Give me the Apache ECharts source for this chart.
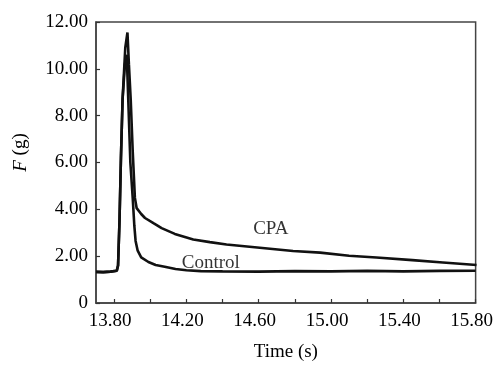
<!DOCTYPE html>
<html>
<head>
<meta charset="utf-8">
<script src="https://cdn.jsdelivr.net/npm/echarts@6/dist/echarts.min.js"></script>
<style>html,body{margin:0;padding:0;background:#fff;}#c{width:496px;height:367px;}</style>
</head>
<body>
<div id="c"></div>
<script>
// Time (s) samples and force (g) values
const controlTime = [13.70, 13.74, 13.78, 13.815, 13.822, 13.83, 13.838, 13.847, 13.86, 13.870, 13.878, 13.89, 13.903, 13.912, 13.919, 13.93, 13.95, 13.99, 14.03, 14.08, 14.14, 14.20, 14.28, 14.40, 14.60, 14.80, 15.00, 15.20, 15.40, 15.60, 15.80];
const controlForce = [1.33, 1.32, 1.34, 1.38, 1.6, 3.5, 6.2, 8.7, 10.2, 10.6, 8.8, 6.0, 4.5, 3.3, 2.65, 2.25, 1.95, 1.75, 1.62, 1.55, 1.45, 1.40, 1.36, 1.35, 1.34, 1.36, 1.35, 1.37, 1.35, 1.37, 1.38];
const cpaTime = [13.70, 13.74, 13.78, 13.815, 13.822, 13.83, 13.838, 13.847, 13.862, 13.874, 13.882, 13.892, 13.903, 13.915, 13.925, 13.95, 13.971, 14.02, 14.063, 14.136, 14.238, 14.33, 14.422, 14.606, 14.79, 14.94, 15.10, 15.251, 15.45, 15.619, 15.805];
const cpaForce = [1.33, 1.32, 1.34, 1.38, 1.6, 3.5, 6.2, 8.7, 10.9, 11.55, 10.2, 8.7, 6.5, 4.5, 4.05, 3.8, 3.63, 3.4, 3.2, 2.95, 2.71, 2.6, 2.5, 2.36, 2.22, 2.15, 2.02, 1.94, 1.83, 1.73, 1.62];
// Axis ticks and labels
const xLabelValues = [13.80, 14.20, 14.60, 15.00, 15.40, 15.80];
const xTickValues = [13.80, 14.00, 14.20, 14.40, 14.60, 14.80, 15.00, 15.20, 15.40, 15.60, 15.80];
const yTicks = [0, 2, 4, 6, 8, 10, 12];
// Annotations: [time, force, text]
const annotations = [[14.667, 3.17, 'CPA'], [14.335, 1.72, 'Control']];

const zip = (a, b) => a.map((t, i) => [t, b[i]]);
const serif = 'Liberation Serif';
const chart = echarts.init(document.getElementById('c'), null, {renderer: 'canvas'});
chart.setOption({
  animation: false,
  grid: {left: 96, right: 19, top: 22, bottom: 61, show: true, borderColor: '#444', borderWidth: 1.5, backgroundColor: 'transparent'},
  xAxis: {
    type: 'value', min: 13.7, max: 15.8,
    name: 'Time (s)', nameLocation: 'middle', nameGap: 40,
    nameTextStyle: {fontFamily: serif, fontSize: 19, color: '#000'},
    axisLine: {show: true, lineStyle: {color: '#444', width: 1.5}},
    axisTick: {show: true, inside: true, length: 4, customValues: xTickValues, lineStyle: {color: '#333', width: 1.2}},
    axisLabel: {customValues: xLabelValues, formatter: v => v.toFixed(2), fontFamily: serif, fontSize: 19, color: '#000', margin: 9, padding: [0, 8, 0, 0]},
    splitLine: {show: false}
  },
  yAxis: {
    type: 'value', min: 0, max: 12, interval: 2,
    name: '{i|F} (g)', nameLocation: 'middle', nameGap: 66, nameRotate: 90,
    nameTextStyle: {fontFamily: serif, fontSize: 19, color: '#000', padding: [0, 0, 0, 20], rich: {i: {fontFamily: serif, fontStyle: 'italic', fontSize: 19, color: '#000'}}},
    axisLine: {show: true, lineStyle: {color: '#444', width: 1.5}},
    axisTick: {show: true, inside: true, length: 4, customValues: yTicks, lineStyle: {color: '#333', width: 1.2}},
    axisLabel: {customValues: yTicks, formatter: v => v === 0 ? '0' : v.toFixed(2), fontFamily: serif, fontSize: 19, color: '#000', margin: 8},
    splitLine: {show: false}
  },
  series: [
    {name: 'Control', type: 'line', data: zip(controlTime, controlForce), showSymbol: false, lineStyle: {color: '#111', width: 2.6}},
    {name: 'CPA', type: 'line', data: zip(cpaTime, cpaForce), showSymbol: false, lineStyle: {color: '#111', width: 2.6}},
    {type: 'scatter', data: annotations, symbolSize: 0, silent: true,
     label: {show: true, position: 'inside', formatter: p => p.data[2], fontFamily: serif, fontSize: 19, color: '#000', align: 'center', verticalAlign: 'middle'}}
  ]
});
</script>
</body>
</html>
